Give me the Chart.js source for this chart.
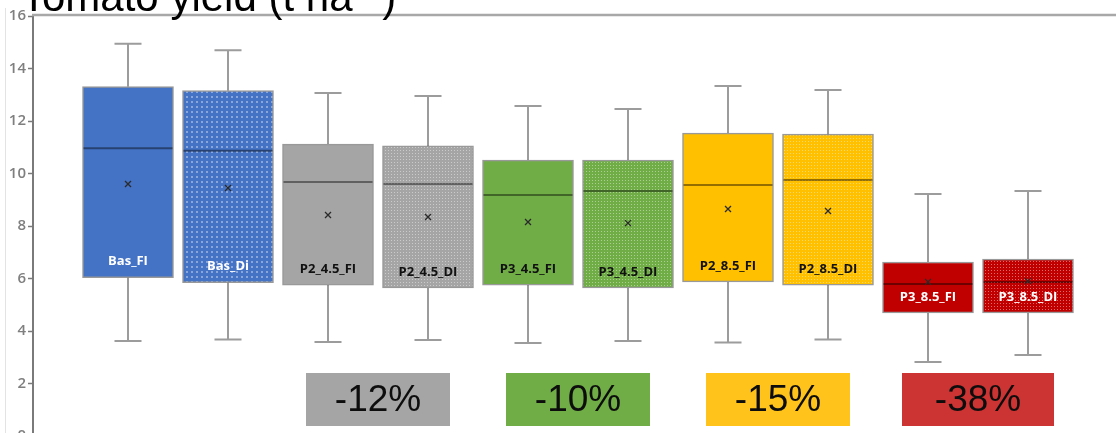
<!DOCTYPE html>
<html>
<head>
<meta charset="utf-8">
<script src="https://cdn.jsdelivr.net/npm/chart.js@4.4.1/dist/chart.umd.min.js"></script>
<style>
  html, body { margin: 0; padding: 0; background: #fff; overflow: hidden; }
  #wrap { position: relative; width: 1116px; height: 433px; overflow: hidden; background: #fff; }
  #frame { position: absolute; left: 5px; top: 8px; width: 1px; height: 425px; background: #e3e3e3; }
  #c { position: absolute; left: 0; top: -40px; }
</style>
</head>
<body>
<div id="wrap">
  <div id="frame"></div>
  <canvas id="c" width="1116" height="500"></canvas>
</div>
<script>
// Tomato yield per treatment (t ha-1): five-number summary plus mean
const treatments = ['Bas_FI', 'Bas_Di', 'P2_4.5_FI', 'P2_4.5_DI', 'P3_4.5_FI', 'P3_4.5_DI', 'P2_8.5_FI', 'P2_8.5_DI', 'P3_8.5_FI', 'P3_8.5_DI'];
const minVals  = [3.62, 3.68, 3.58, 3.66, 3.54, 3.62, 3.56, 3.68, 2.82, 3.09];
const q1Vals   = [6.03, 5.84, 5.75, 5.64, 5.75, 5.64, 5.87, 5.75, 4.69, 4.69];
const medVals  = [10.96, 10.87, 9.68, 9.60, 9.18, 9.33, 9.56, 9.75, 5.79, 5.87];
const q3Vals   = [13.31, 13.16, 11.12, 11.05, 10.51, 10.51, 11.54, 11.50, 6.63, 6.74];
const maxVals  = [14.94, 14.70, 13.07, 12.95, 12.57, 12.46, 13.33, 13.18, 9.22, 9.33];
const meanVals = [9.60, 9.45, 8.42, 8.34, 8.15, 8.11, 8.65, 8.57, 5.87, 5.90];

// Yield change of each scenario pair relative to the baseline
const changeLabels = ['-12%', '-10%', '-15%', '-38%'];
const changePairs  = [[3, 4], [5, 6], [7, 8], [9, 10]];

// y axis ticks
const yTicks = [0, 2, 4, 6, 8, 10, 12, 14, 16];

// styling
const baseColors   = ['#4472C4', '#4472C4', '#A5A5A5', '#A5A5A5', '#70AD47', '#70AD47', '#FFC000', '#FFC000', '#C00000', '#C00000'];
const dotted       = [false, true, false, true, false, true, false, true, false, true];
const labelColors  = ['#ffffff', '#ffffff', '#111111', '#111111', '#111111', '#111111', '#111111', '#111111', '#ffffff', '#ffffff'];
const changeColors = ['#A5A5A5', '#70AD47', '#FFC31C', '#CC3434'];
const changeWidths = [144, 144, 144, 152];
const BOX_W = 91;

function dotPattern(base, big) {
  const s = big ? 5 : 3;
  const t = document.createElement('canvas');
  t.width = s; t.height = s;
  const g = t.getContext('2d');
  g.fillStyle = base;
  g.fillRect(0, 0, s, s);
  g.fillStyle = big ? 'rgba(255,255,255,0.38)' : 'rgba(255,255,255,0.42)';
  if (big) g.fillRect(1, 1, 2, 2); else g.fillRect(1, 1, 1, 1);
  return g.createPattern(t, 'repeat');
}

const fills = baseColors.map((c, i) => dotted[i] ? dotPattern(c, i === 1) : c);

const boxDecor = {
  id: 'boxDecor',
  beforeDatasetsDraw(chart) {
    const { ctx, scales: { x, y } } = chart;
    ctx.save();
    ctx.strokeStyle = '#9c9c9c';
    ctx.lineWidth = 2;
    treatments.forEach((_, i) => {
      const cx = x.getPixelForValue(i + 1);
      const pMax = y.getPixelForValue(maxVals[i]);
      const pMin = y.getPixelForValue(minVals[i]);
      const pQ1 = y.getPixelForValue(q1Vals[i]);
      const pQ3 = y.getPixelForValue(q3Vals[i]);
      ctx.beginPath();
      ctx.moveTo(cx, pQ3); ctx.lineTo(cx, pMax);
      ctx.moveTo(cx - 13.5, pMax); ctx.lineTo(cx + 13.5, pMax);
      ctx.moveTo(cx, pQ1); ctx.lineTo(cx, pMin);
      ctx.moveTo(cx - 13.5, pMin); ctx.lineTo(cx + 13.5, pMin);
      ctx.stroke();
    });
    ctx.restore();
  },
  afterDatasetsDraw(chart) {
    const { ctx, scales: { x, y } } = chart;
    ctx.save();
    treatments.forEach((name, i) => {
      const cx = x.getPixelForValue(i + 1);
      const half = BOX_W / 2 - 1;
      // median
      const pMed = y.getPixelForValue(medVals[i]);
      ctx.strokeStyle = 'rgba(0,0,0,0.42)';
      ctx.lineWidth = 2;
      ctx.beginPath();
      ctx.moveTo(cx - half, pMed); ctx.lineTo(cx + half, pMed);
      ctx.stroke();
      // mean marker
      const pMean = y.getPixelForValue(meanVals[i]);
      ctx.strokeStyle = '#2a2a2a';
      ctx.lineWidth = 1.3;
      ctx.beginPath();
      ctx.moveTo(cx - 3, pMean - 3); ctx.lineTo(cx + 3, pMean + 3);
      ctx.moveTo(cx + 3, pMean - 3); ctx.lineTo(cx - 3, pMean + 3);
      ctx.stroke();
      // treatment label
      const pQ1 = y.getPixelForValue(q1Vals[i]);
      ctx.fillStyle = labelColors[i];
      ctx.font = 'bold 13px "Open Sans"';
      ctx.textAlign = 'center';
      ctx.textBaseline = 'middle';
      ctx.fillText(name, cx, pQ1 - 16);
    });
    ctx.restore();
  },
  afterDraw(chart) {
    const { ctx, chartArea, scales: { x, y } } = chart;
    ctx.save();
    // frame top edge
    ctx.strokeStyle = '#a8a8a8';
    ctx.lineWidth = 2.5;
    ctx.beginPath();
    ctx.moveTo(chartArea.left - 1, chartArea.top - 1);
    ctx.lineTo(chartArea.right, chartArea.top - 1);
    ctx.stroke();

    // change boxes under each scenario pair
    const y0 = y.getPixelForValue(0);
    changeLabels.forEach((lab, k) => {
      const cx = (x.getPixelForValue(changePairs[k][0]) + x.getPixelForValue(changePairs[k][1])) / 2;
      const w = changeWidths[k];
      const top = y0 - 63, h = 53;
      ctx.fillStyle = changeColors[k];
      ctx.fillRect(cx - w / 2, top, w, h);
      ctx.fillStyle = '#0d0d0d';
      ctx.font = '37px "Liberation Sans"';
      ctx.textAlign = 'center';
      ctx.textBaseline = 'middle';
      ctx.fillText(lab, cx, top + h / 2 + 1);
    });

    // title
    ctx.fillStyle = '#000';
    ctx.textAlign = 'left';
    ctx.textBaseline = 'alphabetic';
    const tx = 21, ty = chartArea.top - 5;
    ctx.font = '42px "Liberation Sans"';
    const main = 'Tomato yield (t ha';
    ctx.fillText(main, tx, ty);
    let px = tx + ctx.measureText(main).width;
    ctx.font = '26px "Liberation Sans"';
    ctx.fillText('\u22121', px, ty - 16);
    px += ctx.measureText('\u22121').width;
    ctx.font = '42px "Liberation Sans"';
    ctx.fillText(')', px, ty);
    ctx.restore();
  }
};

new Chart(document.getElementById('c'), {
  type: 'bar',
  data: {
    datasets: [{
      data: treatments.map((_, i) => ({ x: i + 1, y: [q1Vals[i], q3Vals[i]] })),
      backgroundColor: fills,
      borderColor: 'rgba(70,70,70,0.55)',
      borderWidth: 1.5,
      borderSkipped: false,
      barThickness: BOX_W
    }]
  },
  options: {
    responsive: false,
    animation: false,
    devicePixelRatio: 1,
    layout: { padding: { top: 56, left: 0, right: 0, bottom: 24 } },
    plugins: { legend: { display: false }, tooltip: { enabled: false } },
    scales: {
      x: { type: 'linear', min: 0.05, max: 10.88, offset: false, display: false },
      y: {
        min: 0, max: 16,
        afterFit(s) { s.width = 33; },
        afterBuildTicks(s) { s.ticks = yTicks.map(v => ({ value: v })); },
        border: { display: true, color: '#7a7a7a', width: 2 },
        grid: { drawOnChartArea: false, drawTicks: true, tickLength: 5, tickColor: '#7a7a7a', tickWidth: 1.5 },
        ticks: { color: '#7f7f7f', padding: 2, font: { family: 'Open Sans', size: 15, weight: '600' } }
      }
    }
  },
  plugins: [boxDecor]
});
</script>
</body>
</html>
